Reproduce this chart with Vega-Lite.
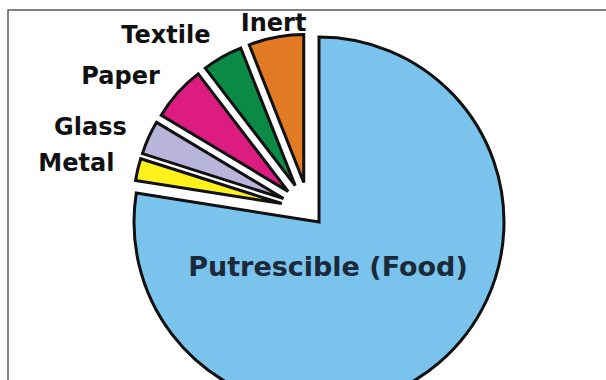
{
  "$schema": "https://vega.github.io/schema/vega-lite/v6.json",
  "width": 622,
  "height": 424,
  "autosize": {"type": "none"},
  "padding": {"left": 8, "top": 10, "right": -24, "bottom": -54},
  "background": "white",
  "view": {"stroke": "#5a5a5a", "strokeWidth": 1.5, "fill": "white"},
  "data": {
    "values": [
      {"Category": "Putrescible (Food)", "share": 77.5},
      {"Category": "Metal", "share": 2.4},
      {"Category": "Glass", "share": 3.7},
      {"Category": "Paper", "share": 6.0},
      {"Category": "Textile", "share": 4.4},
      {"Category": "Inert", "share": 6.0}
    ]
  },
  "transform": [{"window": [{"op": "row_number", "as": "idx"}]}],
  "encoding": {
    "theta": {"field": "share", "type": "quantitative", "stack": true},
    "order": {"field": "idx", "type": "quantitative"},
    "color": {
      "field": "Category",
      "type": "nominal",
      "legend": null,
      "scale": {
        "domain": ["Putrescible (Food)", "Metal", "Glass", "Paper", "Textile", "Inert"],
        "range": ["#7AC3EC", "#FFF21C", "#B9B4DA", "#DC1C80", "#0B8A45", "#E17A22"]
      }
    }
  },
  "layer": [
    {
      "mark": {
        "type": "arc",
        "stroke": "#111111",
        "strokeWidth": 3,
        "strokeJoin": "miter",
        "outerRadius": {"expr": "datum.Category === 'Putrescible (Food)' ? 185 : 148"},
        "xOffset": {"expr": "datum.Category === 'Putrescible (Food)' ? 0 : -10 + 28 * sin((scale('theta', datum.share_start) + scale('theta', datum.share_end)) / 2)"},
        "yOffset": {"expr": "datum.Category === 'Putrescible (Food)' ? 0 : -12 - 28 * cos((scale('theta', datum.share_start) + scale('theta', datum.share_end)) / 2)"}
      }
    },
    {
      "mark": {
        "type": "text",
        "radius": {"expr": "datum.Category === 'Inert' ? 161 : 172"},
        "font": "DejaVu Sans",
        "fontWeight": "bold",
        "fontSize": 24,
        "baseline": "middle",
        "align": {"expr": "datum.Category === 'Inert' ? 'center' : 'right'"},
        "xOffset": {"expr": "-10 + 28 * sin((scale('theta', datum.share_start) + scale('theta', datum.share_end)) / 2)"},
        "yOffset": {"expr": "-12 - 28 * cos((scale('theta', datum.share_start) + scale('theta', datum.share_end)) / 2)"}
      },
      "encoding": {
        "text": {"condition": {"test": "datum.Category === 'Putrescible (Food)'", "value": ""}, "field": "Category", "type": "nominal"},
        "color": {"value": "#111111"}
      }
    },
    {
      "mark": {
        "type": "text",
        "radius": 60,
        "dx": -30,
        "font": "DejaVu Sans",
        "fontWeight": "bold",
        "fontSize": 27,
        "baseline": "middle",
        "align": "center"
      },
      "encoding": {
        "text": {"condition": {"test": "datum.Category !== 'Putrescible (Food)'", "value": ""}, "field": "Category", "type": "nominal"},
        "color": {"value": "#1B2A3A"}
      }
    }
  ]
}
